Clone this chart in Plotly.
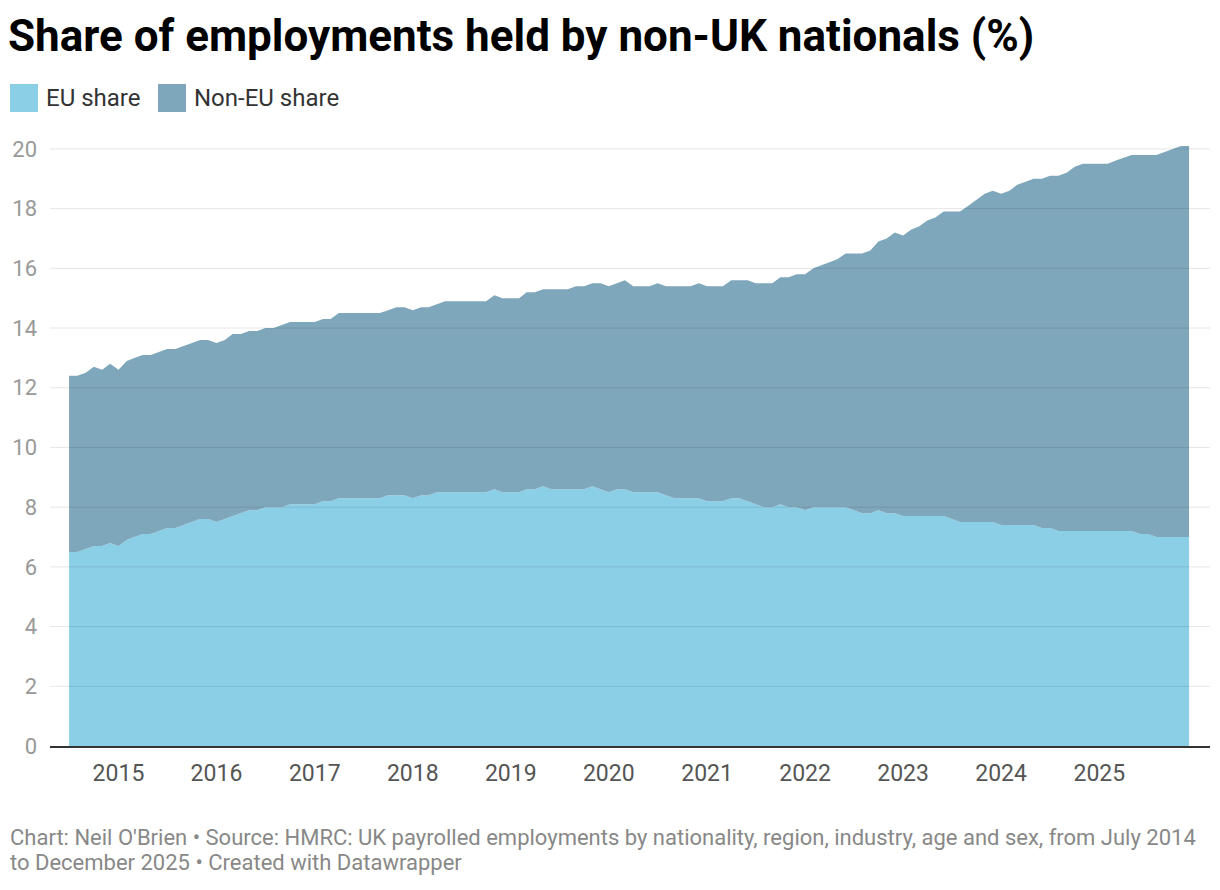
import pandas as pd
import plotly.graph_objects as go

# Monthly values, July 2014 to December 2025 (% of payrolled employments)
months = pd.date_range("2014-07-01", periods=138, freq="MS")

eu_share = [
    6.5, 6.5, 6.6, 6.7, 6.7, 6.8, 6.7, 6.9, 7.0, 7.1, 7.1, 7.2,
    7.3, 7.3, 7.4, 7.5, 7.6, 7.6, 7.5, 7.6, 7.7, 7.8, 7.9, 7.9,
    8.0, 8.0, 8.0, 8.1, 8.1, 8.1, 8.1, 8.2, 8.2, 8.3, 8.3, 8.3,
    8.3, 8.3, 8.3, 8.4, 8.4, 8.4, 8.3, 8.4, 8.4, 8.5, 8.5, 8.5,
    8.5, 8.5, 8.5, 8.5, 8.6, 8.5, 8.5, 8.5, 8.6, 8.6, 8.7, 8.6,
    8.6, 8.6, 8.6, 8.6, 8.7, 8.6, 8.5, 8.6, 8.6, 8.5, 8.5, 8.5,
    8.5, 8.4, 8.3, 8.3, 8.3, 8.3, 8.2, 8.2, 8.2, 8.3, 8.3, 8.2,
    8.1, 8.0, 8.0, 8.1, 8.0, 8.0, 7.9, 8.0, 8.0, 8.0, 8.0, 8.0,
    7.9, 7.8, 7.8, 7.9, 7.8, 7.8, 7.7, 7.7, 7.7, 7.7, 7.7, 7.7,
    7.6, 7.5, 7.5, 7.5, 7.5, 7.5, 7.4, 7.4, 7.4, 7.4, 7.4, 7.3,
    7.3, 7.2, 7.2, 7.2, 7.2, 7.2, 7.2, 7.2, 7.2, 7.2, 7.2, 7.1,
    7.1, 7.0, 7.0, 7.0, 7.0, 7.0,
]

non_eu_share = [
    5.9, 5.9, 5.9, 6.0, 5.9, 6.0, 5.9, 6.0, 6.0, 6.0, 6.0, 6.0,
    6.0, 6.0, 6.0, 6.0, 6.0, 6.0, 6.0, 6.0, 6.1, 6.0, 6.0, 6.0,
    6.0, 6.0, 6.1, 6.1, 6.1, 6.1, 6.1, 6.1, 6.1, 6.2, 6.2, 6.2,
    6.2, 6.2, 6.2, 6.2, 6.3, 6.3, 6.3, 6.3, 6.3, 6.3, 6.4, 6.4,
    6.4, 6.4, 6.4, 6.4, 6.5, 6.5, 6.5, 6.5, 6.6, 6.6, 6.6, 6.7,
    6.7, 6.7, 6.8, 6.8, 6.8, 6.9, 6.9, 6.9, 7.0, 6.9, 6.9, 6.9,
    7.0, 7.0, 7.1, 7.1, 7.1, 7.2, 7.2, 7.2, 7.2, 7.3, 7.3, 7.4,
    7.4, 7.5, 7.5, 7.6, 7.7, 7.8, 7.9, 8.0, 8.1, 8.2, 8.3, 8.5,
    8.6, 8.7, 8.8, 9.0, 9.2, 9.4, 9.4, 9.6, 9.7, 9.9, 10.0, 10.2,
    10.3, 10.4, 10.6, 10.8, 11.0, 11.1, 11.1, 11.2, 11.4, 11.5, 11.6, 11.7,
    11.8, 11.9, 12.0, 12.2, 12.3, 12.3, 12.3, 12.3, 12.4, 12.5, 12.6, 12.7,
    12.7, 12.8, 12.9, 13.0, 13.1, 13.1,
]

y_ticks = [0, 2, 4, 6, 8, 10, 12, 14, 16, 18, 20]
series_names = ["EU share", "Non-EU share"]
colors = ["#8bcfe7", "#7fa7bb"]

title_text = "Share of employments held by non-UK nationals (%)"
footer_lines = [
    "Chart: Neil O'Brien • Source: HMRC: UK payrolled employments by nationality, "
    "region, industry, age and sex, from July 2014",
    "to December 2025 • Created with Datawrapper",
]

W, H = 1220, 890
L, R, T, B = 50, 10, 131, 144


# pixel -> paper helpers for the legend and footer
def px(x):
    return (x - L) / (W - L - R)


def py(y):
    return (H - B - y) / (H - T - B)


fig = go.Figure()
for name, vals, col in zip(series_names, [eu_share, non_eu_share], colors):
    fig.add_trace(go.Scatter(
        x=months, y=vals, name=name, stackgroup="one",
        mode="lines", line=dict(width=0, color=col), fillcolor=col,
        showlegend=False,
    ))

# gridlines drawn over the areas like the original
shapes = []
for t in y_ticks[1:]:
    shapes.append(dict(type="line", xref="paper", yref="y", x0=0, x1=1, y0=t, y1=t,
                       line=dict(color="rgba(0,0,0,0.1)", width=1), layer="above"))

# legend squares and labels
annotations = []
legend_x = [10, 158]
for i, (name, col) in enumerate(zip(series_names, colors)):
    shapes.append(dict(type="rect", xref="paper", yref="paper",
                       x0=px(legend_x[i]), x1=px(legend_x[i] + 28),
                       y0=py(112), y1=py(84), fillcolor=col, line=dict(width=0)))
    annotations.append(dict(text=name, xref="paper", yref="paper",
                            x=px(legend_x[i] + 34), y=py(98), xanchor="left", yanchor="middle",
                            showarrow=False, font=dict(size=24, color="#333333")))

# footer, one annotation per line
for i, line in enumerate(footer_lines):
    annotations.append(dict(text=line, xref="paper", yref="paper", x=px(8), y=py(837 + 25 * i),
                            xanchor="left", yanchor="middle", align="left", showarrow=False,
                            font=dict(size=22, color="#888888")))

fig.update_layout(
    width=W, height=H,
    margin=dict(l=L, r=R, t=T, b=B),
    paper_bgcolor="white", plot_bgcolor="white",
    font=dict(family="Roboto, sans-serif"),
    title=dict(text="<b>" + title_text + "</b>", xref="container", yref="container",
               x=8 / W, y=1 - 20 / H, xanchor="left", yanchor="top",
               font=dict(size=44, color="#000000")),
    xaxis=dict(range=["2014-04-21", "2026-02-17"], tickformat="%Y", dtick="M12",
               tick0="2015-01-01", showgrid=False, showline=True, linecolor="#333333",
               linewidth=2, ticks="", ticklabelstandoff=5,
               tickfont=dict(size=23, color="#555555")),
    yaxis=dict(range=[0, 20.6], tickvals=y_ticks, showgrid=False, zeroline=False,
               ticks="", ticklabelstandoff=12, tickfont=dict(size=22, color="#999999")),
    shapes=shapes,
    annotations=annotations,
)

fig.write_html("out.html", config={"displayModeBar": False},
               post_script="document.body.style.margin='0';")
